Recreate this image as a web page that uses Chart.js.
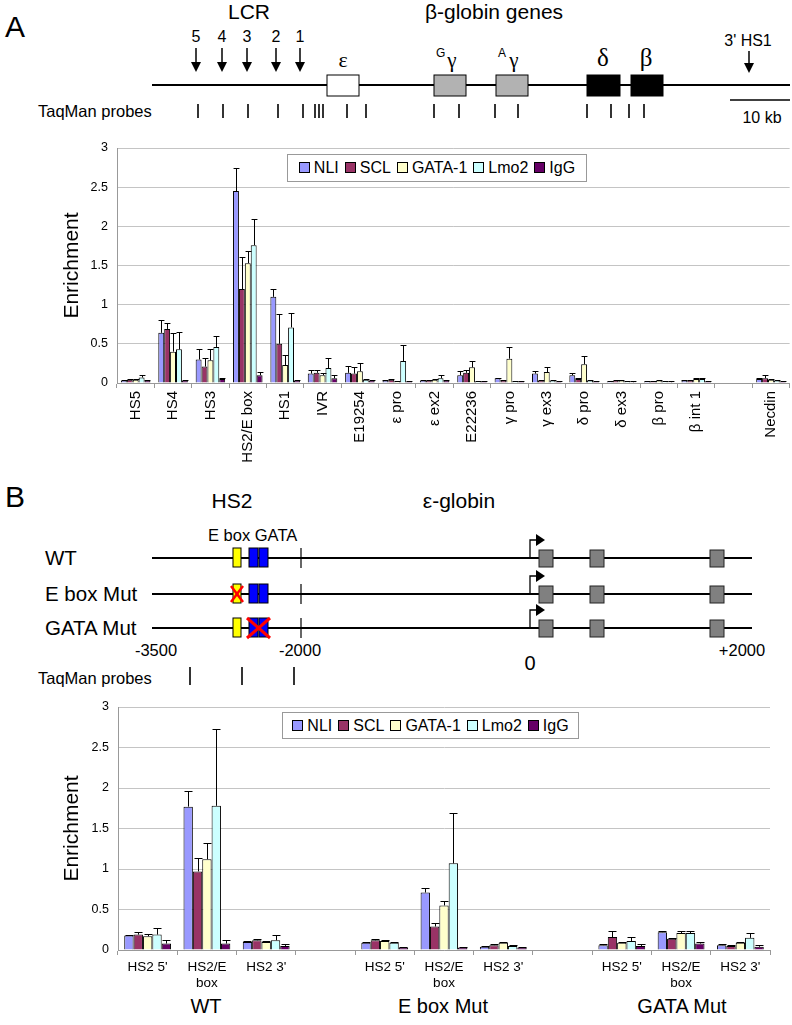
<!DOCTYPE html>
<html>
<head>
<meta charset="utf-8">
<script src="https://cdn.jsdelivr.net/npm/chart.js@4.4.1/dist/chart.umd.min.js"></script>
<style>
  body { margin: 0; background: #fff; font-family: "Liberation Sans", Arial, sans-serif; }
  #page { position: relative; width: 792px; height: 1025px; overflow: hidden; }
  #diagram { position: absolute; left: 0; top: 0; }
  canvas { position: absolute; left: 0; }
  .legend { position: absolute; box-sizing: border-box; border: 1px solid #999; background: #fff;
            display: flex; align-items: center; justify-content: center; gap: 6px; font-size: 16px; color: #000; }
  .legend .sw { display: inline-block; width: 9px; height: 9px; border: 1px solid #000; margin-right: 4px; }
</style>
</head>
<body>
<div id="page">
  <svg id="diagram" width="792" height="1025"></svg>
  <canvas id="chartA" width="792" height="345" style="top:130px"></canvas>
  <canvas id="chartB" width="792" height="300" style="top:690px"></canvas>
  <div class="legend" id="legendA" style="left:287px;top:154px;width:300px;height:28px"></div>
  <div class="legend" id="legendB" style="left:282px;top:712px;width:297px;height:27px"></div>
</div>
<script>
// series
var seriesNames = ["NLI", "SCL", "GATA-1", "Lmo2", "IgG"];
var seriesColors = ["#9999ff", "#993366", "#ffffcc", "#ccffff", "#660066"];

// panel A - beta-globin locus
var labelsA = ["HS5", "HS4", "HS3", "HS2/E box", "HS1", "IVR", "E19254", "ε pro", "ε ex2", "E22236",
               "γ pro", "γ ex3", "δ pro", "δ ex3", "β pro", "β int 1", "", "Necdin"];
var nliA     = [0.03, 0.64, 0.30, 2.45, 1.10, 0.12, 0.13, 0.03, 0.03, 0.10, 0.06, 0.12, 0.10, 0.02, 0.02, 0.03, null, 0.05];
var nliAErr  = [0.01, 0.17, 0.14, 0.29, 0.10, 0.04, 0.09, 0.01, 0.01, 0.05, 0.01, 0.03, 0.03, 0.01, 0.01, 0.01, null, 0.02];
var sclA     = [0.04, 0.69, 0.21, 1.20, 0.50, 0.13, 0.12, 0.04, 0.03, 0.13, 0.03, 0.03, 0.05, 0.03, 0.02, 0.03, null, 0.06];
var sclAErr  = [0.01, 0.08, 0.11, 0.41, 0.38, 0.04, 0.09, 0.01, 0.01, 0.03, 0.01, 0.01, 0.01, 0.01, 0.01, 0.01, null, 0.04];
var gataA    = [0.04, 0.40, 0.29, 1.53, 0.23, 0.10, 0.15, 0.02, 0.04, 0.20, 0.31, 0.14, 0.24, 0.03, 0.03, 0.05, null, 0.04];
var gataAErr = [0.01, 0.24, 0.14, 0.15, 0.13, 0.03, 0.10, 0.01, 0.01, 0.08, 0.15, 0.07, 0.11, 0.01, 0.01, 0.02, null, 0.01];
var lmoA     = [0.07, 0.43, 0.46, 1.76, 0.71, 0.19, 0.04, 0.28, 0.06, 0.02, 0.02, 0.03, 0.03, 0.02, 0.02, 0.05, null, 0.03];
var lmoAErr  = [0.03, 0.22, 0.14, 0.33, 0.19, 0.13, 0.01, 0.20, 0.04, 0.01, 0.01, 0.01, 0.01, 0.01, 0.01, 0.02, null, 0.01];
var iggA     = [0.03, 0.03, 0.05, 0.10, 0.03, 0.06, 0.03, 0.02, 0.03, 0.02, 0.02, 0.02, 0.02, 0.01, 0.01, 0.02, null, 0.02];
var iggAErr  = [0.01, 0.01, 0.02, 0.04, 0.01, 0.04, 0.01, 0.01, 0.01, 0.01, 0.01, 0.01, 0.01, 0.01, 0.01, 0.01, null, 0.01];

// panel B - HS2 mutants
var labelsB = [["HS2 5'"], ["HS2/E", "box"], ["HS2 3'"], "", ["HS2 5'"], ["HS2/E", "box"], ["HS2 3'"], "",
               ["HS2 5'"], ["HS2/E", "box"], ["HS2 3'"]];
var groupsB = ["WT", "E box Mut", "GATA Mut"];
var nliB     = [0.18, 1.77, 0.10, null, 0.09, 0.71, 0.04, null, 0.06, 0.22, 0.06];
var nliBErr  = [0.01, 0.19, 0.01, null, 0.01, 0.05, 0.01, null, 0.01, 0.01, 0.01];
var sclB     = [0.19, 0.97, 0.12, null, 0.12, 0.29, 0.06, null, 0.16, 0.14, 0.05];
var sclBErr  = [0.03, 0.16, 0.01, null, 0.01, 0.04, 0.01, null, 0.08, 0.01, 0.01];
var gataB    = [0.17, 1.12, 0.10, null, 0.11, 0.55, 0.09, null, 0.09, 0.21, 0.09];
var gataBErr = [0.03, 0.20, 0.01, null, 0.01, 0.05, 0.01, null, 0.01, 0.03, 0.01];
var lmoB     = [0.19, 1.78, 0.12, null, 0.09, 1.07, 0.05, null, 0.11, 0.21, 0.15];
var lmoBErr  = [0.08, 0.95, 0.06, null, 0.01, 0.62, 0.01, null, 0.05, 0.02, 0.06];
var iggB     = [0.08, 0.08, 0.05, null, 0.03, 0.03, 0.03, null, 0.05, 0.08, 0.04];
var iggBErr  = [0.04, 0.04, 0.02, null, 0.01, 0.01, 0.01, null, 0.02, 0.02, 0.02];

var yTicks = { min: 0, max: 3, step: 0.5 };
var FONT = "'Liberation Sans', Arial, sans-serif";

// upper error bars, drawn with the chart's own y scale
var errorBars = {
  id: "errorBars",
  afterDatasetsDraw: function (chart) {
    var ctx = chart.ctx, y = chart.scales.y;
    ctx.save();
    ctx.strokeStyle = "#000";
    ctx.lineWidth = 1;
    chart.data.datasets.forEach(function (ds, i) {
      chart.getDatasetMeta(i).data.forEach(function (bar, j) {
        var v = ds.data[j], e = ds.errors[j];
        if (v == null || e == null) return;
        var top = Math.round(y.getPixelForValue(v + e)) + 0.5;
        var x = Math.round(bar.x) + 0.5;
        var half = Math.min(bar.width / 2, 4);
        ctx.beginPath();
        ctx.moveTo(x, bar.y);
        ctx.lineTo(x, top);
        ctx.moveTo(x - half, top);
        ctx.lineTo(x + half, top);
        ctx.stroke();
      });
    });
    ctx.restore();
  }
};

function makeChart(id, labels, values, errors, cfg) {
  var datasets = seriesNames.map(function (name, i) {
    return {
      label: name,
      data: values[i],
      errors: errors[i],
      backgroundColor: seriesColors[i],
      borderColor: "#000",
      borderWidth: 1,
      categoryPercentage: 0.79,
      barPercentage: 1.0
    };
  });
  return new Chart(document.getElementById(id), {
    type: "bar",
    data: { labels: labels, datasets: datasets },
    plugins: [errorBars],
    options: {
      responsive: false,
      animation: false,
      layout: { padding: cfg.padding },
      plugins: { legend: { display: false }, tooltip: { enabled: false } },
      scales: {
        x: {
          grid: { drawOnChartArea: false, tickLength: 5, color: "#999", offset: true },
          border: { color: "#999" },
          ticks: {
            autoSkip: false, color: "#000", padding: cfg.xPad,
            minRotation: cfg.rotation, maxRotation: cfg.rotation,
            font: { family: FONT, size: cfg.xFont }
          },
          afterFit: function (s) { s.height = cfg.xHeight; }
        },
        y: {
          min: yTicks.min, max: yTicks.max,
          ticks: {
            stepSize: yTicks.step, color: "#000", padding: 9, font: { family: FONT, size: 12.5 },
            callback: function (v) { return String(+Number(v).toFixed(1)); }
          },
          grid: { color: "#c4c4c4", drawTicks: false },
          border: { color: "#999" },
          title: { display: true, text: "Enrichment", color: "#000", padding: { top: 4, bottom: 0 },
                   font: { family: FONT, size: 21 } },
          afterFit: function (s) { s.width = cfg.yWidth; }
        }
      }
    }
  });
}

makeChart("chartA", labelsA,
  [nliA, sclA, gataA, lmoA, iggA], [nliAErr, sclAErr, gataAErr, lmoAErr, iggAErr],
  { padding: { top: 18, right: 2, left: 56, bottom: 0 }, rotation: 90, xPad: 3, xFont: 15, xHeight: 92, yWidth: 61 });

makeChart("chartB", labelsB,
  [nliB, sclB, gataB, lmoB, iggB], [nliBErr, sclBErr, gataBErr, lmoBErr, iggBErr],
  { padding: { top: 17, right: 22, left: 56, bottom: 0 }, rotation: 0, xPad: 4, xFont: 13.5, xHeight: 40, yWidth: 62 });

// legends
["legendA", "legendB"].forEach(function (id) {
  var el = document.getElementById(id);
  seriesNames.forEach(function (name, i) {
    var item = document.createElement("span");
    item.innerHTML = '<span class="sw" style="background:' + seriesColors[i] + '"></span>' + name;
    el.appendChild(item);
  });
});

// schematic maps
var svg = [];
function txt(x, y, s, size, extra) {
  svg.push('<text x="' + x + '" y="' + y + '" font-size="' + size + '" ' + (extra || "") + '>' + s + '</text>');
}
function line(x1, y1, x2, y2, w, col) {
  svg.push('<line x1="' + x1 + '" y1="' + y1 + '" x2="' + x2 + '" y2="' + y2 + '" stroke="' + (col || "#000") +
           '" stroke-width="' + w + '"/>');
}
function rect(x, y, w, h, fill, stroke) {
  svg.push('<rect x="' + x + '" y="' + y + '" width="' + w + '" height="' + h + '" fill="' + fill +
           '" stroke="' + (stroke || "#000") + '" stroke-width="1"/>');
}
function downArrow(x, y1, y2) {
  line(x, y1, x, y2 - 9, 1.5);
  svg.push('<polygon points="' + (x - 5) + ',' + (y2 - 10) + ' ' + (x + 5) + ',' + (y2 - 10) + ' ' + x + ',' + y2 + '" fill="#000"/>');
}
var SERIF = 'font-family="Liberation Serif, serif"';
var MID = 'text-anchor="middle"';

// A: locus map
txt(5, 37, "A", 30);
txt(249, 19, "LCR", 21, MID);
txt(494, 19, "β-globin genes", 21, MID);
[[196, "5"], [222, "4"], [247, "3"], [276, "2"], [300, "1"]].forEach(function (a) {
  txt(a[0], 42, a[1], 16, MID);
  downArrow(a[0], 48, 72);
});
txt(748, 46, "3' HS1", 16, MID);
downArrow(749, 51, 73);
line(152, 85, 790, 85, 2);
rect(327, 75, 32, 21, "#fff");
rect(434, 75, 32, 21, "#b2b2b2");
rect(496, 75, 32, 21, "#b2b2b2");
rect(587, 75, 33, 21, "#000");
rect(631, 75, 32, 21, "#000");
txt(343, 67, "ε", 22, SERIF + " " + MID);
txt(436, 57, "G", 12);
txt(452, 67, "γ", 21, SERIF + " " + MID);
txt(498, 57, "A", 12);
txt(514, 67, "γ", 21, SERIF + " " + MID);
txt(603, 66, "δ", 25, SERIF + " " + MID);
txt(646, 66, "β", 25, SERIF + " " + MID);
txt(38, 117, "TaqMan probes", 16.5);
[198, 223, 248, 278, 303, 315, 319, 323, 347, 366, 434, 459, 495, 518, 587, 611, 629, 644].forEach(function (x) {
  line(x, 104, x, 118, 1.6);
});
line(730, 100, 790, 100, 1.5);
txt(762, 123, "10 kb", 16, MID);

// B: HS2 / epsilon-globin constructs
txt(5, 507, "B", 30);
txt(232, 508, "HS2", 21, MID);
txt(459, 508, "ε-globin", 21, MID);
txt(208, 541, "E box GATA", 16.5);
[[558, "WT"], [594, "E box Mut"], [628, "GATA Mut"]].forEach(function (r, k) {
  var y = r[0];
  txt(45, y + 7, r[1], 20.5);
  line(152, y, 752, y, 2);
  rect(233, y - 10, 8, 19, "#ffff00");
  rect(249, y - 10, 9, 19, "#0000ff");
  rect(259, y - 10, 9, 19, "#0000ff");
  line(301, y - 10, 301, y + 10, 1.2);
  svg.push('<path d="M530,' + (y - 1) + ' V' + (y - 18) + ' H537" fill="none" stroke="#000" stroke-width="1.3"/>');
  svg.push('<polygon points="536,' + (y - 24) + ' 536,' + (y - 12) + ' 545,' + (y - 18) + '" fill="#000"/>');
  [539, 590, 710].forEach(function (x) { rect(x, y - 8, 14, 17, "#808080", "#222"); });
  if (k === 1) {
    line(231, y - 8, 243, y + 8, 2.5, "#ff0000");
    line(243, y - 8, 231, y + 8, 2.5, "#ff0000");
  }
  if (k === 2) {
    line(247, y - 10, 270, y + 10, 3, "#ff0000");
    line(270, y - 10, 247, y + 10, 3, "#ff0000");
  }
});
txt(156, 656, "-3500", 16.5, MID);
txt(300, 656, "-2000", 16.5, MID);
txt(742, 656, "+2000", 16.5, MID);
txt(530, 670, "0", 20, MID);
txt(38, 684, "TaqMan probes", 16.5);
[190, 242, 294].forEach(function (x) { line(x, 667, x, 685, 1.6); });

// group captions under chart B
[206, 443, 682].forEach(function (x, i) { txt(x, 1013, groupsB[i], 20, MID); });

var svgEl = document.getElementById("diagram");
svgEl.setAttribute("font-family", "Liberation Sans, Arial, sans-serif");
svgEl.innerHTML = svg.join("");
</script>
</body>
</html>
